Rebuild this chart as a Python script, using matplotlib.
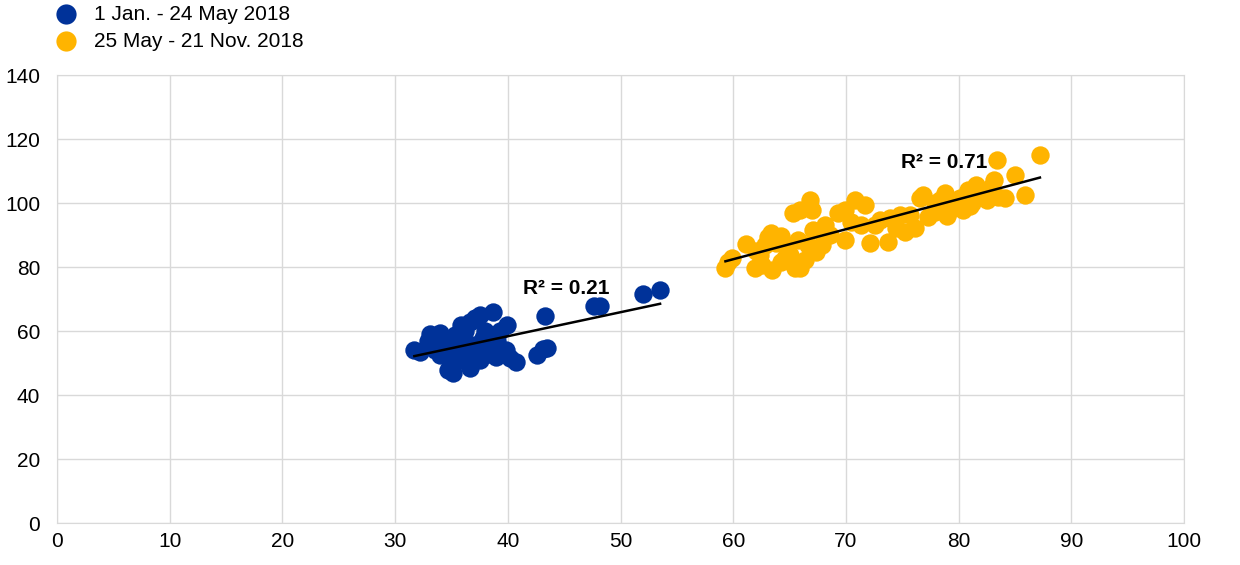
import numpy as np
import matplotlib
matplotlib.use("Agg")
import matplotlib.pyplot as plt

plt.rcParams['font.family'] = ['Liberation Sans', 'DejaVu Sans']

# Series 1: 1 Jan. - 24 May 2018
blue_x = [31.7, 32.2, 33.1, 32.9, 34.0, 34.4, 34.9, 34.7, 35.1, 35.8, 36.2, 36.6,
          37.1, 37.5, 38.0, 38.7, 39.3, 39.9, 39.8, 40.2, 40.7, 36.6, 37.5, 38.9,
          42.6, 43.1, 43.3, 43.5, 47.6, 48.2, 52.0, 53.5, 33.5, 35.5, 35.9, 37.1,
          38.4, 35.3, 34.0, 38.0, 33.0, 34.5, 36.0, 36.8, 37.8, 39.0, 35.0, 36.5,
          38.5]
blue_y = [54.0, 53.5, 59.0, 57.0, 59.4, 57.0, 52.5, 48.0, 47.0, 62.0, 60.0, 63.0,
          64.0, 65.0, 60.0, 66.0, 60.0, 62.0, 54.0, 51.5, 50.5, 48.5, 51.0, 52.0,
          52.5, 54.5, 64.7, 54.8, 67.8, 67.8, 71.5, 73.0, 54.0, 55.5, 51.0, 55.6,
          55.6, 58.7, 52.5, 52.5, 56.0, 55.0, 57.0, 54.0, 58.0, 57.0, 50.0, 52.0,
          53.5]

# Series 2: 25 May - 21 Nov. 2018
yellow_x = [59.3, 59.5, 59.9, 61.1, 61.9, 62.5, 62.8, 63.1, 63.3, 63.4, 64.2, 64.2,
            65.0, 65.3, 65.5, 65.9, 65.9, 66.4, 66.8, 67.0, 67.1, 66.6, 67.3, 67.9,
            68.6, 69.3, 69.9, 69.9, 70.8, 71.3, 71.7, 72.1, 72.6, 73.0, 73.7, 73.9,
            74.4, 74.8, 75.2, 75.7, 76.1, 76.6, 76.8, 77.3, 77.9, 78.3, 78.8, 79.2,
            79.7, 80.4, 80.8, 81.5, 81.9, 82.8, 83.1, 83.4, 84.1, 85.0, 85.9, 87.2,
            62.4, 64.6, 65.7, 68.1, 70.4, 77.9, 80.1, 81.0, 82.5, 79.0, 63.8, 62.0,
            64.8, 83.5, 81.2]
yellow_y = [79.7, 81.5, 82.8, 87.2, 79.7, 80.6, 86.9, 89.4, 90.6, 79.0, 81.5, 89.7,
            83.8, 96.9, 79.7, 79.7, 97.8, 82.2, 100.9, 97.8, 91.6, 86.9, 84.7, 86.9,
            90.0, 96.9, 97.8, 88.4, 100.9, 93.1, 99.4, 87.5, 93.1, 94.7, 87.8, 95.3,
            92.2, 96.3, 90.9, 96.3, 92.2, 101.6, 102.5, 95.6, 97.2, 100.9, 103.1, 97.8,
            99.4, 97.8, 104.1, 105.6, 103.4, 104.7, 107.2, 113.4, 101.6, 108.8, 102.5, 115.0,
            83.8, 82.8, 88.4, 93.1, 94.0, 100.0, 101.6, 99.0, 101.0, 96.0, 87.5, 85.0,
            86.5, 102.0, 100.0]

labels = ["1 Jan. - 24 May 2018", "25 May - 21 Nov. 2018"]
r2_text = ["R² = 0.21", "R² = 0.71"]

fig = plt.figure(figsize=(12.4, 5.65), dpi=100)
ax = fig.add_axes([0.046, 0.074, 0.909, 0.793])

blue = "#003299"
yellow = "#FFB400"

ax.scatter(blue_x, blue_y, s=175, color=blue, label=labels[0], zorder=3, linewidths=0)
ax.scatter(yellow_x, yellow_y, s=175, color=yellow, label=labels[1], zorder=3, linewidths=0)

# trend lines
for xs, ys in [(blue_x, blue_y), (yellow_x, yellow_y)]:
    xs = np.array(xs)
    k, b = np.polyfit(xs, ys, 1)
    xx = np.array([xs.min(), xs.max()])
    ax.plot(xx, k * xx + b, color="black", lw=1.8, zorder=4)

ax.text(41.3, 70.3, r2_text[0], fontsize=15, fontweight="bold", ha="left", va="bottom", zorder=5)
ax.text(74.9, 109.8, r2_text[1], fontsize=15, fontweight="bold", ha="left", va="bottom", zorder=5)

ax.set_xlim(0, 100)
ax.set_ylim(0, 140)
ax.set_xticks(range(0, 101, 10))
ax.set_yticks(range(0, 141, 20))
ax.grid(True, color="#d9d9d9", lw=1)
ax.set_axisbelow(True)
for sp in ax.spines.values():
    sp.set_color("#d9d9d9")
ax.tick_params(length=0, labelsize=15)
ax.tick_params(axis="y", pad=12)
ax.tick_params(axis="x", pad=6)

fig.legend(loc="upper left", bbox_to_anchor=(0.021, 1.025), frameon=False, fontsize=15,
           handletextpad=0.35, labelspacing=0.4, markerscale=1.1)

fig.savefig("out.png", dpi=100)
